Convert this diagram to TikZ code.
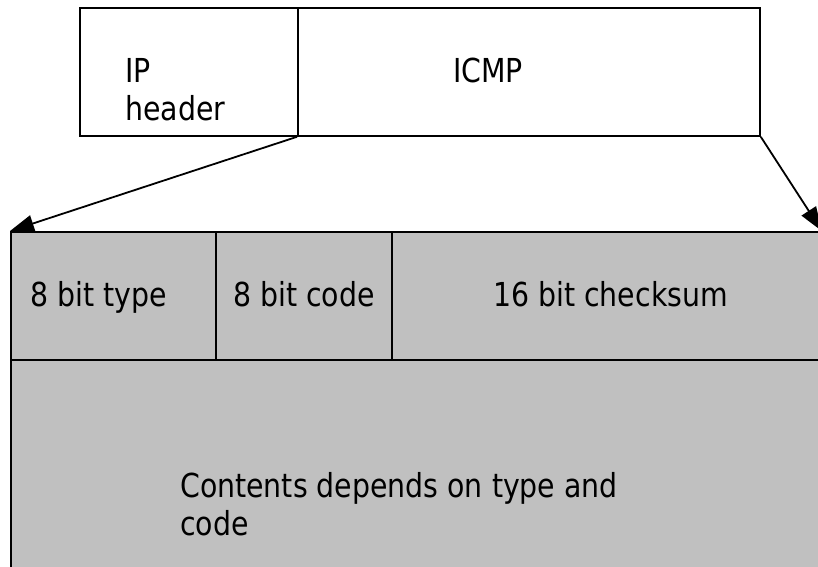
\documentclass[tikz,border=0pt]{standalone}
\usepackage{fontspec}
\setmainfont[FakeStretch=0.86]{DejaVu Sans}
\usetikzlibrary{arrows.meta}
\definecolor{fieldgray}{HTML}{C0C0C0}
\tikzset{
  box/.style={draw=black, line width=1.8pt, inner sep=0pt, anchor=north west},
  field/.style={box, fill=fieldgray},
  lbl/.style={anchor=base west, inner sep=0pt, font=\fontsize{33}{37}\selectfont},
  expand/.style={line width=1.8pt, -{Triangle[length=24pt,width=17pt]}, shorten >=0pt}
}
\begin{document}
\begin{tikzpicture}[x=1pt, y=-1pt]
\useasboundingbox (0,0) rectangle (818,566);
\begin{scope}
\clip (0,0) rectangle (818,566);
% packet: IP header followed by ICMP message
\node[box, minimum width=218pt, minimum height=128pt] (ip) at (79,7) {};
\node[box, minimum width=462pt, minimum height=128pt] (icmp) at (297,7) {};
% ICMP message fields
\node[field, minimum width=205pt, minimum height=128pt] (type) at (10,231) {};
\node[field, minimum width=176pt, minimum height=128pt] (code) at (215,231) {};
\node[field, minimum width=429pt, minimum height=128pt] (cksum) at (391,231) {};
\node[field, minimum width=810pt, minimum height=230pt] (body) at (10,359) {};
\end{scope}
% labels
\node[lbl] (iplbl1) at (125,82) {IP};
\node[lbl] (iplbl2) at (125,120) {header};
\node[lbl] (icmplbl) at (453,82) {ICMP};
\node[lbl] (typelbl) at (30,306) {8 bit type};
\node[lbl] (codelbl) at (233,306) {8 bit code};
\node[lbl] (cklbl) at (493,306) {16 bit checksum};
\node[lbl] (bodylbl1) at (180,497) {Contents depends on type and};
\node[lbl] (bodylbl2) at (180,535) {code};
% expansion arrows
\draw[expand] (icmp.south west) -- (type.north west);
\draw[expand] (icmp.south east) -- (cksum.north east);
\end{tikzpicture}
\end{document}
